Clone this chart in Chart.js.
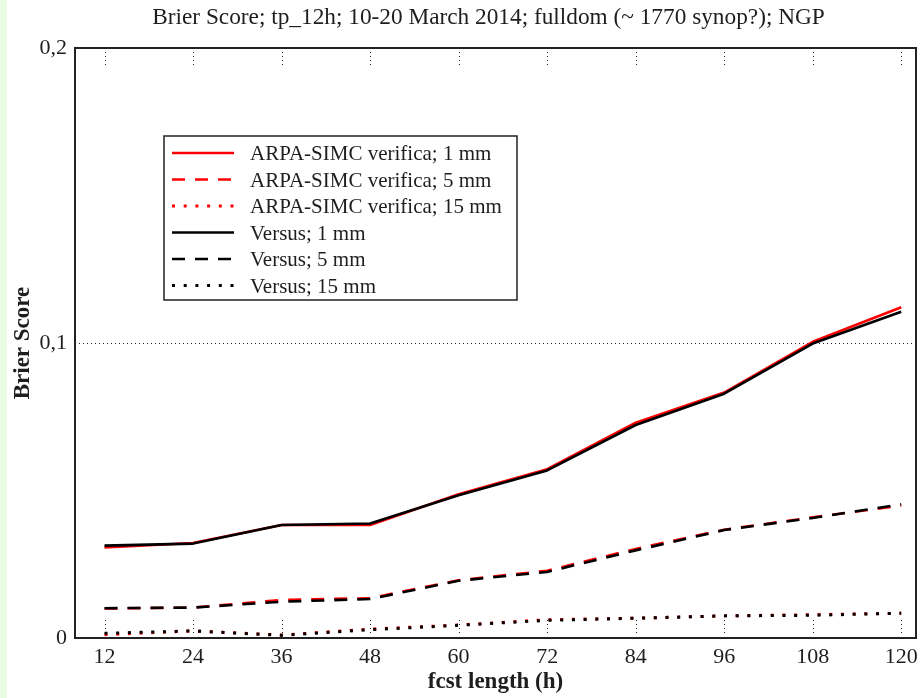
<!DOCTYPE html>
<html>
<head>
<meta charset="utf-8">
<script src="https://cdn.jsdelivr.net/npm/chart.js@4/dist/chart.umd.min.js"></script>
<style>
  html, body { margin: 0; padding: 0; background: #ffffff; }
  #wrap { position: relative; width: 921px; height: 698px; }
  #strip { position: absolute; left: 0; top: 0; width: 7px; height: 698px; background: #ebfce5; }
  canvas { position: absolute; left: 0; top: 0; }
</style>
</head>
<body>
<div id="wrap">
  <div id="strip"></div>
  <canvas id="c" width="921" height="698"></canvas>
</div>
<script>
// ---- data ----
const chartTitle = "Brier Score; tp_12h; 10-20 March 2014; fulldom (~ 1770 synop?); NGP";
const xTitle = "fcst length (h)";
const yTitle = "Brier Score";
const fcstLength = [12, 24, 36, 48, 60, 72, 84, 96, 108, 120];
const xTicks = [12, 24, 36, 48, 60, 72, 84, 96, 108, 120];
const yTicks = [0, 0.1, 0.2];
const seriesLabels = [
  "ARPA-SIMC verifica; 1 mm",
  "ARPA-SIMC verifica; 5 mm",
  "ARPA-SIMC verifica; 15 mm",
  "Versus; 1 mm",
  "Versus; 5 mm",
  "Versus; 15 mm"
];
const arpa1mm   = [0.0307, 0.0322, 0.0383, 0.0383, 0.0487, 0.0572, 0.0730, 0.0832, 0.1004, 0.1121];
const arpa5mm   = [0.0100, 0.0103, 0.0129, 0.0135, 0.0196, 0.0228, 0.0302, 0.0367, 0.0409, 0.0449];
const arpa15mm  = [0.0011, 0.0024, 0.0010, 0.0030, 0.0044, 0.0062, 0.0067, 0.0075, 0.0079, 0.0084];
const versus1mm = [0.0313, 0.0320, 0.0383, 0.0388, 0.0484, 0.0568, 0.0722, 0.0828, 0.0998, 0.1106];
const versus5mm = [0.0101, 0.0103, 0.0123, 0.0132, 0.0194, 0.0224, 0.0297, 0.0366, 0.0407, 0.0453];
const versus15mm= [0.0016, 0.0024, 0.0009, 0.0028, 0.0043, 0.0060, 0.0067, 0.0075, 0.0077, 0.0084];

const FONT = '"Liberation Serif", "Times New Roman", serif';
const TXT = '#1e1e1e';

function pts(ys) { return fcstLength.map((x, i) => ({ x: x, y: ys[i] })); }

const SOLID = [];
const DASH = [13, 10];
const DOT = [3, 8.7];

function ds(label, data, color, dash, width, order) {
  return {
    label: label, data: pts(data), borderColor: color, backgroundColor: color,
    borderDash: dash, borderWidth: width, pointRadius: 0, tension: 0,
    fill: false, order: order, borderCapStyle: 'butt', borderJoinStyle: 'round'
  };
}

const datasets = [
  ds(seriesLabels[0], arpa1mm,   '#ff0000', SOLID, 2.6, 1),
  ds(seriesLabels[1], arpa5mm,   '#ff0000', DASH,  2.6, 1),
  ds(seriesLabels[2], arpa15mm,  '#ff0000', DOT,   3,   1),
  ds(seriesLabels[3], versus1mm, '#000000', SOLID, 2.6, 0),
  ds(seriesLabels[4], versus5mm, '#000000', DASH,  2.6, 0),
  ds(seriesLabels[5], versus15mm,'#000000', DOT,   3,   0)
];

const framePlugin = {
  id: 'frame',
  beforeDatasetsDraw(chart) {
    const ctx = chart.ctx, a = chart.chartArea;
    const xs = chart.scales.x, ys = chart.scales.y;
    ctx.save();
    // chart title, centred over the plot area (slightly left of centre as in the original)
    ctx.fillStyle = TXT;
    ctx.font = '23.3px ' + FONT;
    ctx.textAlign = 'center';
    ctx.textBaseline = 'middle';
    ctx.fillText(chartTitle, (a.left + a.right) / 2 - 7, 17.8);

    ctx.strokeStyle = '#222';
    ctx.lineWidth = 1;
    ctx.setLineDash([1, 3]);
    // horizontal dotted gridline at the middle tick
    const yg = Math.round(ys.getPixelForValue(yTicks[1])) + 0.5;
    ctx.beginPath();
    ctx.moveTo(a.left, yg); ctx.lineTo(a.right, yg);
    ctx.stroke();
    // dotted inner tick marks at top and bottom
    xTicks.forEach(v => {
      const px = Math.round(xs.getPixelForValue(v)) + 0.5;
      ctx.beginPath();
      ctx.moveTo(px, a.top + 4); ctx.lineTo(px, a.top + 17);
      ctx.moveTo(px, a.bottom - 18); ctx.lineTo(px, a.bottom - 3);
      ctx.stroke();
    });
    ctx.restore();
  },
  afterDatasetsDraw(chart) {
    const ctx = chart.ctx, a = chart.chartArea;
    ctx.save();
    // frame
    ctx.strokeStyle = '#222';
    ctx.lineWidth = 2;
    ctx.setLineDash([]);
    ctx.strokeRect(a.left, a.top, a.right - a.left, a.bottom - a.top);
    // legend box
    const lx = a.left + 89, ly = a.top + 88, lw = 353, lh = 164;
    ctx.fillStyle = '#ffffff';
    ctx.fillRect(lx, ly, lw, lh);
    ctx.lineWidth = 1.5;
    ctx.strokeStyle = '#222';
    ctx.strokeRect(lx, ly, lw, lh);
    ctx.font = '21px ' + FONT;
    ctx.textBaseline = 'middle';
    ctx.textAlign = 'left';
    chart.data.datasets.forEach((d, i) => {
      const yy = ly + 18.5 + i * 26.5;
      ctx.strokeStyle = d.borderColor;
      ctx.lineWidth = d.borderWidth;
      ctx.setLineDash(d.borderDash || []);
      ctx.beginPath();
      ctx.moveTo(lx + 8, yy - 1.5); ctx.lineTo(lx + 70, yy - 1.5);
      ctx.stroke();
      ctx.setLineDash([]);
      ctx.fillStyle = TXT;
      ctx.fillText(d.label, lx + 86, yy);
    });
    ctx.restore();
  }
};

new Chart(document.getElementById('c'), {
  type: 'line',
  data: { datasets: datasets },
  options: {
    responsive: false,
    animation: false,
    devicePixelRatio: 1,
    layout: { padding: { left: 0, right: 5, top: 48, bottom: 0 } },
    plugins: {
      legend: { display: false },
      tooltip: { enabled: false },
      title: { display: false }
    },
    scales: {
      x: {
        type: 'linear', min: 8, max: 122,
        afterBuildTicks: s => { s.ticks = xTicks.map(v => ({ value: v })); },
        afterFit: s => { s.height = 60; s.paddingLeft = 0; s.paddingRight = 0; },
        grid: { display: false, drawTicks: false },
        border: { display: false },
        ticks: {
          autoSkip: false, maxRotation: 0, padding: 6, color: TXT,
          font: { family: FONT, size: 22 },
          callback: v => String(v)
        },
        title: {
          display: true, text: xTitle, color: TXT,
          font: { family: FONT, size: 23, weight: 'bold' },
          padding: { top: 0, bottom: 2 }
        }
      },
      y: {
        type: 'linear', min: 0, max: 0.2,
        afterBuildTicks: s => { s.ticks = yTicks.map(v => ({ value: v })); },
        afterFit: s => { s.width = 75; s.paddingTop = 0; s.paddingBottom = 0; },
        grid: { display: false, drawTicks: false },
        border: { display: false },
        ticks: {
          padding: 8, color: TXT,
          font: { family: FONT, size: 22 },
          callback: v => String(v).replace('.', ',')
        },
        title: {
          display: true, text: yTitle, color: TXT,
          font: { family: FONT, size: 23, weight: 'bold' },
          padding: { top: 9, bottom: 0 }
        }
      }
    }
  },
  plugins: [framePlugin]
});
</script>
</body>
</html>
